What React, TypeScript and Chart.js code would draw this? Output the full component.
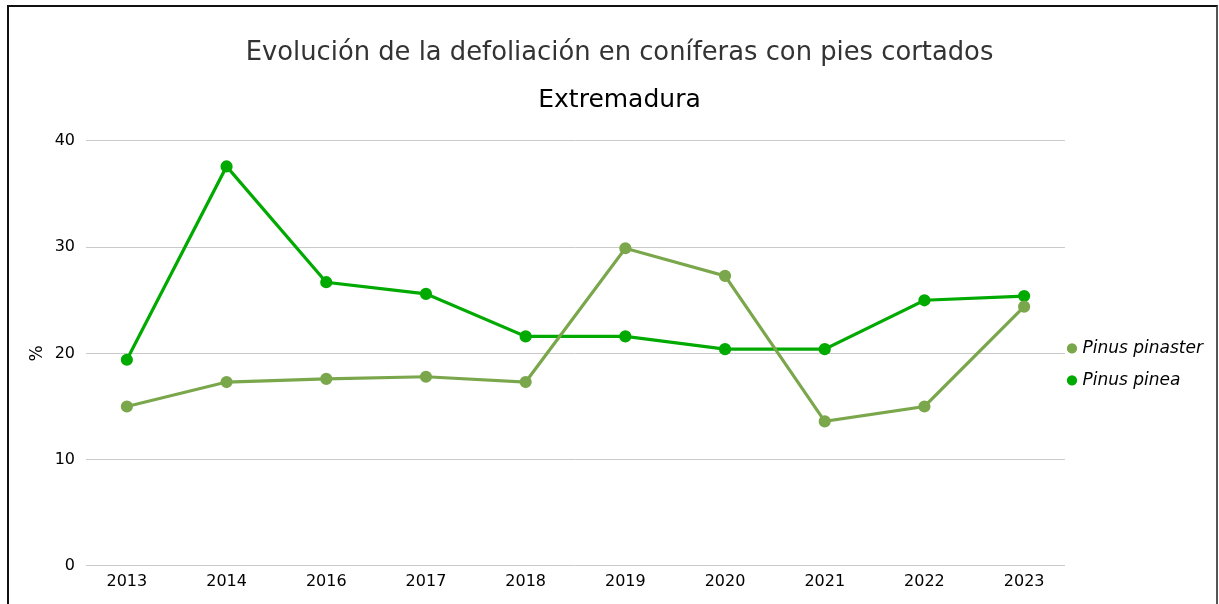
import React, { useEffect, useRef } from "react";
import { Chart, registerables } from "chart.js";

Chart.register(...registerables);

const categories = ["2013", "2014", "2016", "2017", "2018", "2019", "2020", "2021", "2022", "2023"];
const pinasterValues = [15.0, 17.3, 17.6, 17.8, 17.3, 29.9, 27.3, 13.6, 15.0, 24.4];
const pineaValues = [19.4, 37.6, 26.7, 25.6, 21.6, 21.6, 20.4, 20.4, 25.0, 25.4];
const yTicks = [0, 10, 20, 30, 40];

const FONT = "'DejaVu Sans', 'Noto Sans', sans-serif";

const legendShift = {
  id: "legendShift",
  afterLayout(chart: any) {
    const l = chart.legend;
    if (!l) return;
    const dx = -10;
    const dy = 11;
    l.left += dx;
    l.right += dx;
    l.top += dy;
    l.bottom += dy;
  },
};

export default function App() {
  const ref = useRef<HTMLCanvasElement | null>(null);
  useEffect(() => {
    if (!ref.current) return;
    const toPts = (arr: number[]) => arr.map((v, i) => ({ x: i, y: v }));
    const chart = new Chart(ref.current, {
      type: "line",
      data: {
        datasets: [
          {
            label: "Pinus pinaster",
            data: toPts(pinasterValues),
            borderColor: "#7ba74c",
            backgroundColor: "#7ba74c",
            borderWidth: 3.2,
            pointRadius: 4.5,
            pointHoverRadius: 4.5,
            tension: 0,
          },
          {
            label: "Pinus pinea",
            data: toPts(pineaValues),
            borderColor: "#00aa00",
            backgroundColor: "#00aa00",
            borderWidth: 3.2,
            pointRadius: 4.5,
            pointHoverRadius: 4.5,
            tension: 0,
          },
        ],
      },
      plugins: [legendShift],
      options: {
        animation: false,
        responsive: false,
        layout: { padding: { left: 14, right: 0, top: 0, bottom: 15 } },
        plugins: {
          title: {
            display: true,
            text: "Evolución de la defoliación en coníferas con pies cortados",
            color: "#333",
            font: { family: FONT, size: 25.8, weight: "normal" },
            padding: { top: 31, bottom: 17 },
          },
          subtitle: {
            display: true,
            text: "Extremadura",
            color: "#000",
            font: { family: FONT, size: 25, weight: "normal" },
            padding: { top: 0, bottom: 25 },
          },
          legend: {
            position: "right",
            fullSize: false,
            maxWidth: 151,
            labels: {
              usePointStyle: true,
              pointStyle: "circle",
              boxWidth: 4,
              boxHeight: 5,
              padding: 15,
              color: "#000",
              font: { family: FONT, size: 17, style: "italic" },
            },
          },
          tooltip: { enabled: false },
        },
        scales: {
          x: {
            type: "linear",
            min: -0.41,
            max: 9.41,
            afterBuildTicks: (axis: any) => {
              axis.ticks = categories.map((_, i) => ({ value: i }));
            },
            grid: { display: false },
            border: { display: false },
            ticks: {
              color: "#000",
              font: { family: FONT, size: 16 },
              maxRotation: 0,
              autoSkip: false,
              padding: -2,
              callback: (v: any) => categories[v as number] ?? "",
            },
          },
          y: {
            min: 0,
            max: 40,
            afterBuildTicks: (axis: any) => {
              axis.ticks = yTicks.map((v) => ({ value: v }));
            },
            afterFit: (axis: any) => {
              axis.width = 63;
            },
            grid: { color: "#cacaca", lineWidth: 1, drawTicks: false },
            border: { display: false },
            title: {
              display: true,
              text: "%",
              color: "#000",
              font: { family: FONT, size: 17 },
              padding: { top: 4, bottom: 0 },
            },
            ticks: {
              color: "#000",
              font: { family: FONT, size: 16 },
              padding: 11,
            },
          },
        },
      },
    });
    return () => chart.destroy();
  }, []);

  return (
    <div
      style={{
        position: "absolute",
        left: 7,
        top: 5,
        width: 1207,
        height: 700,
        borderTop: "2px solid #111",
        borderLeft: "2px solid #111",
        borderRight: "2px solid #555",
        background: "#fff",
        overflow: "hidden",
      }}
    >
      <canvas ref={ref} width={1207} height={597} style={{ display: "block" }} />
    </div>
  );
}
